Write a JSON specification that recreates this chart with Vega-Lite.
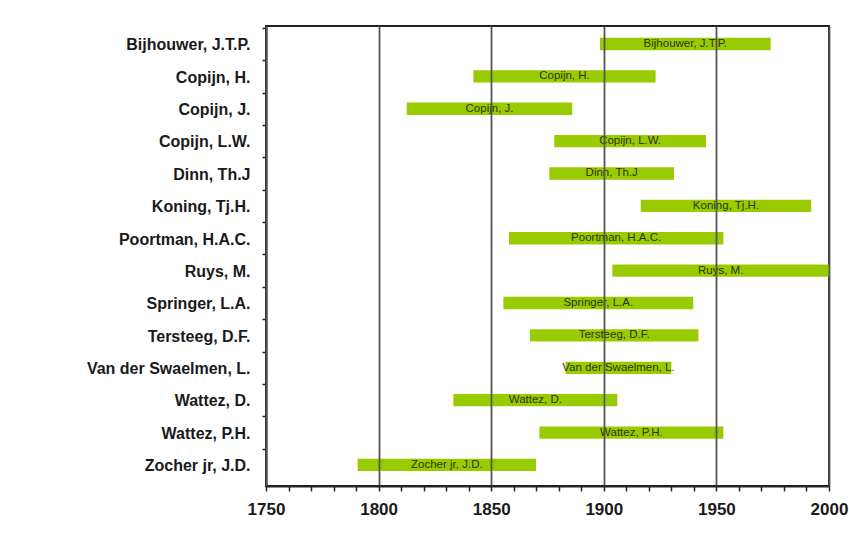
{
  "$schema": "https://vega.github.io/schema/vega-lite/v6.json",
  "width": 563,
  "height": 460,
  "autosize": {"type": "none"},
  "padding": {"left": 266, "top": 26, "right": 20, "bottom": 51},
  "background": "white",
  "config": {"view": {"stroke": "#222", "strokeWidth": 2}},
  "data": {
    "values": [
      {"name": "Bijhouwer, J.T.P.", "start": 1898.3, "end": 1974.1},
      {"name": "Copijn, H.", "start": 1842.1, "end": 1923.0},
      {"name": "Copijn, J.", "start": 1812.5, "end": 1886.0},
      {"name": "Copijn, L.W.", "start": 1878.0, "end": 1945.4},
      {"name": "Dinn, Th.J", "start": 1875.8, "end": 1931.2},
      {"name": "Koning, Tj.H.", "start": 1916.4, "end": 1992.1},
      {"name": "Poortman, H.A.C.", "start": 1857.9, "end": 1953.1},
      {"name": "Ruys, M.", "start": 1903.8, "end": 2000.0},
      {"name": "Springer, L.A.", "start": 1855.4, "end": 1939.7},
      {"name": "Tersteeg, D.F.", "start": 1867.2, "end": 1942.0},
      {"name": "Van der Swaelmen, L.", "start": 1883.0, "end": 1930.0},
      {"name": "Wattez, D.", "start": 1833.2, "end": 1906.0},
      {"name": "Wattez, P.H.", "start": 1871.4, "end": 1953.1},
      {"name": "Zocher jr, J.D.", "start": 1790.7, "end": 1869.9}
    ]
  },
  "layer": [
    {
      "mark": {"type": "bar", "color": "#99cc00"},
      "encoding": {
        "y": {
          "field": "name",
          "type": "nominal",
          "sort": null,
          "scale": {"paddingInner": 0.62, "paddingOuter": 0.413, "align": 0.442},
          "axis": {
            "title": null,
            "labelFont": "Liberation Sans",
            "labelFontWeight": "bold",
            "labelFontSize": 16,
            "labelColor": "#1a1a1a",
            "labelPadding": 12,
            "tickSize": 4,
            "tickColor": "#222",
            "tickWidth": 1.5,
            "tickOffset": -16.19,
            "labelOffset": 17.0,
            "domainColor": "#222",
            "domainWidth": 2
          }
        },
        "x": {
          "field": "start",
          "type": "quantitative",
          "scale": {"domain": [1750, 2000], "nice": false, "zero": false},
          "axis": {
            "title": null,
            "values": [1750, 1760, 1770, 1780, 1790, 1800, 1810, 1820, 1830, 1840, 1850, 1860, 1870, 1880, 1890, 1900, 1910, 1920, 1930, 1940, 1950, 1960, 1970, 1980, 1990, 2000],
            "tickCount": 40,
            "format": "d",
            "labelExpr": "datum.value % 50 === 0 ? datum.label : ''",
            "labelFlush": false,
            "labelOverlap": false,
            "labelFont": "Liberation Sans",
            "labelFontWeight": "bold",
            "labelFontSize": 17,
            "labelColor": "#1a1a1a",
            "labelPadding": 10,
            "grid": true,
            "gridColor": "#555",
            "gridWidth": 1.8,
            "gridOpacity": {"condition": {"test": "datum.value % 50 === 0", "value": 1}, "value": 0},
            "tickSize": 5,
            "tickColor": "#222",
            "tickWidth": 1.5,
            "domainColor": "#222",
            "domainWidth": 2,
            "zindex": 1
          }
        },
        "x2": {"field": "end"}
      }
    },
    {
      "transform": [{"fold": ["start", "end"]}],
      "mark": {"type": "text", "font": "Liberation Sans", "fontSize": 11.5, "color": "#2e3300", "align": "center", "baseline": "middle"},
      "encoding": {
        "y": {"field": "name", "type": "nominal", "sort": null},
        "x": {"aggregate": "mean", "field": "value", "type": "quantitative"},
        "text": {"field": "name", "type": "nominal"}
      }
    }
  ]
}
